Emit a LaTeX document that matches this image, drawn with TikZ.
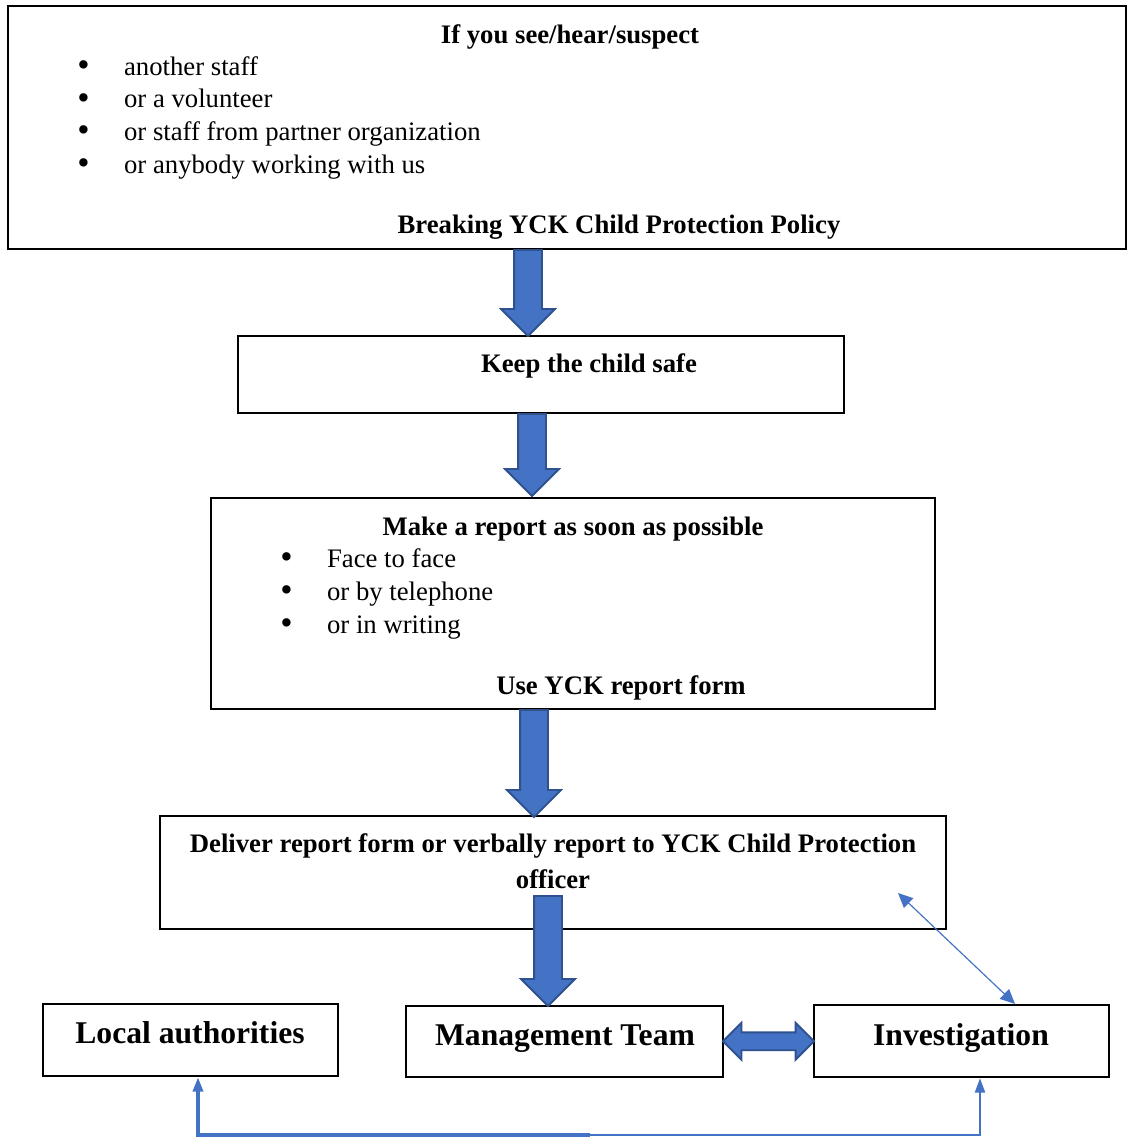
\documentclass[tikz,border=0pt]{standalone}
\usepackage{fontspec}
\setmainfont{Liberation Serif}
\usetikzlibrary{arrows.meta,shapes.arrows,calc}
\definecolor{arrowblue}{HTML}{4472C4}
\definecolor{arrowedge}{HTML}{2F528F}
\newcommand\pxu{0.015cm}
\newcommand\itm{\makebox[0.7cm][l]{\raisebox{-0.6pt}{\fontsize{15}{15}\selectfont\textbullet}}}

\begin{document}
\begin{tikzpicture}[
  x=\pxu, y=-\pxu,
  box/.style={draw, line width=0.9pt, inner sep=0pt},
  txt/.style={anchor=base, inner sep=0pt, font=\fontsize{11.4}{14}\selectfont},
  head/.style={txt, font=\fontsize{11.4}{14}\selectfont\bfseries},
  big/.style={txt, font=\fontsize{13.5}{16}\selectfont\bfseries},
  item/.style={txt, anchor=base west},
  down/.style={single arrow, shape border rotate=270, anchor=tail, fill=arrowblue, draw=arrowedge, line width=0.8pt,
    inner sep=13*\pxu, minimum width=52*\pxu, single arrow head extend=13*\pxu},
  both/.style={double arrow, fill=arrowblue, draw=arrowedge, line width=0.8pt,
    inner sep=8*\pxu, minimum width=35*\pxu, double arrow head extend=9.5*\pxu},
  link/.style={-{Triangle[length=2.2mm, width=1.5mm]}, draw=arrowblue, line width=1.1pt},
  thinlink/.style={{Triangle[length=2.2mm, width=2mm]}-{Triangle[length=2.2mm, width=2mm]}, draw=arrowblue, line width=0.5pt}
]
\useasboundingbox (0,0) rectangle (1127,1137);

% boxes
\node[box, minimum width=1118*\pxu, minimum height=243*\pxu] (see) at (567,127.5) {};
\node[box, minimum width=606*\pxu, minimum height=77*\pxu] (safe) at (541,374.5) {};
\node[box, minimum width=724*\pxu, minimum height=211*\pxu] (report) at (573,603.5) {};
\node[box, minimum width=786*\pxu, minimum height=113*\pxu] (deliver) at (553,872.5) {};
\node[box, minimum width=295*\pxu, minimum height=72*\pxu] (local) at (190.5,1040) {};
\node[box, minimum width=317*\pxu, minimum height=71*\pxu] (mgmt) at (564.5,1041.5) {};
\node[box, minimum width=295*\pxu, minimum height=72*\pxu] (inv) at (961.5,1041) {};

% texts
\node[head] (seetitle) at (570,43) {If you see/hear/suspect};
\foreach \t [count=\i] in {another staff, or a volunteer, or staff from partner organization, or anybody working with us}
  \node[item] (who\i) at (77,42.3+\i*32.7) {\itm\t};
\node[head] (policy) at (619,233) {Breaking YCK Child Protection Policy};

\node[head] (safetext) at (589,372) {Keep the child safe};

\node[head] (reporttitle) at (573,535) {Make a report as soon as possible};
\foreach \t [count=\i] in {Face to face, or by telephone, or in writing}
  \node[item] (how\i) at (280,534+\i*33) {\itm\t};
\node[head] (form) at (621,694) {Use YCK report form};

\node[head] (delivertext) at (553,852) {Deliver report form or verbally report to YCK Child Protection};
\node[head] (officer) at (553,888) {officer};

\node[big] (localtext) at (190,1043) {Local authorities};
\node[big] (mgmttext) at (565,1045) {Management Team};
\node[big] (invtext) at (961,1045) {Investigation};

% block arrows
\node[down, minimum height=86*\pxu] (a1) at (528,249) {};
\node[down, minimum height=82*\pxu] (a2) at (532,413) {};
\node[down, minimum height=107*\pxu] (a3) at (534,709) {};
\node[down, minimum height=110*\pxu] (a4) at (548,895) {};
\node[both, minimum height=91*\pxu] (a5) at ($(mgmt.east)!0.5!(inv.west)$) {};

% thin connectors
\coordinate (ofc) at (898,893);
\draw[thinlink] (ofc) -- ($(inv.north)+(53.5,0)$);
\coordinate (mid) at (590,1135);
\draw[link, line width=1.6pt] (mid) -| ($(local.south)+(7.5,0)$);
\draw[link] (mid) -| ($(inv.south)+(18.5,0)$);

\end{tikzpicture}
\end{document}
